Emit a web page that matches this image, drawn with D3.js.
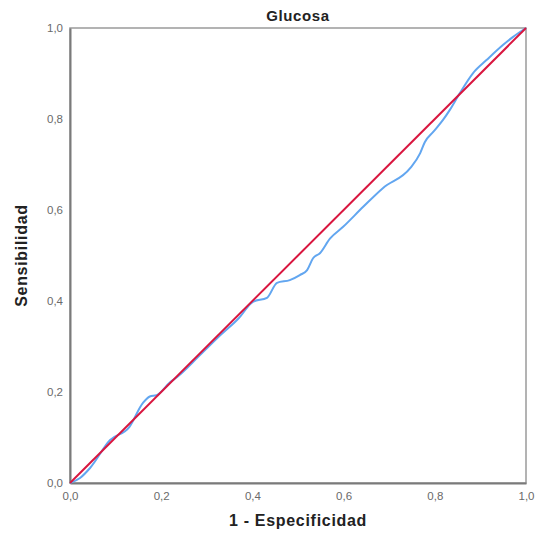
<!DOCTYPE html>
<html>
<head>
<meta charset="utf-8">
<script src="https://cdn.jsdelivr.net/npm/d3@7"></script>
<style>
  body { margin: 0; background: #fff; }
  text { font-family: "Liberation Sans", Arial, sans-serif; }
</style>
</head>
<body>
<div id="chart"></div>
<script>
// ROC curve values
var fpr = [0, 0.022, 0.044, 0.088, 0.13, 0.16, 0.175, 0.19, 0.22, 0.235, 0.285, 0.33, 0.37, 0.401, 0.432, 0.454, 0.482, 0.504, 0.52, 0.533, 0.548, 0.57, 0.599, 0.643, 0.686, 0.746, 0.768, 0.778, 0.796, 0.818, 0.833, 0.855, 0.884, 0.914, 0.95, 0.971, 1];
var tpr = [0, 0.011, 0.033, 0.0945, 0.123, 0.176, 0.19, 0.193, 0.222, 0.233, 0.281, 0.325, 0.362, 0.398, 0.407, 0.44, 0.446, 0.457, 0.468, 0.494, 0.505, 0.537, 0.563, 0.607, 0.648, 0.692, 0.725, 0.749, 0.771, 0.798, 0.82, 0.857, 0.901, 0.93, 0.963, 0.98, 1];
var refLine = [0, 1];
var tickValues = [0, 0.2, 0.4, 0.6, 0.8, 1.0];

var svgWidth = 538;
var svgHeight = 544;
var margin = { top: 28, right: 12, bottom: 61, left: 70 };
var width = svgWidth - margin.left - margin.right;
var height = svgHeight - margin.top - margin.bottom;

var svg = d3.select("#chart")
  .append("svg")
  .attr("width", svgWidth)
  .attr("height", svgHeight);

var chartGroup = svg.append("g")
  .attr("transform", `translate(${margin.left}, ${margin.top})`);

var xScale = d3.scaleLinear().domain([0, 1]).range([0, width]);
var yScale = d3.scaleLinear().domain([0, 1]).range([height, 0]);

var fmt = d => d3.format(".1f")(d).replace(".", ",");

// frame (top/right)
chartGroup.append("rect")
  .attr("x", 0).attr("y", 0)
  .attr("width", width).attr("height", height)
  .attr("fill", "none")
  .attr("stroke", "#9a9a9a")
  .attr("stroke-width", 1.5);

var bottomAxis = d3.axisBottom(xScale).tickValues(tickValues).tickFormat(fmt).tickSize(0).tickPadding(9);
var leftAxis = d3.axisLeft(yScale).tickValues(tickValues).tickFormat(fmt).tickSize(0).tickPadding(7);

var xg = chartGroup.append("g")
  .attr("transform", `translate(0, ${height})`)
  .call(bottomAxis);
var yg = chartGroup.append("g").call(leftAxis);

[xg, yg].forEach(function(g) {
  g.select(".domain").attr("stroke", "#7a7a7a").attr("stroke-width", 2);
  g.selectAll("text")
    .attr("fill", "#6a6a6a")
    .style("font-size", "11.5px");
});

// ROC curve
var curve = d3.line()
  .x((d, i) => xScale(fpr[i]))
  .y((d, i) => yScale(tpr[i]))
  .curve(d3.curveMonotoneX);

chartGroup.append("path")
  .datum(fpr)
  .attr("d", curve)
  .attr("fill", "none")
  .attr("stroke", "#62a6f0")
  .attr("stroke-width", 2);

// reference diagonal
chartGroup.append("line")
  .attr("x1", xScale(refLine[0])).attr("y1", yScale(refLine[0]))
  .attr("x2", xScale(refLine[1])).attr("y2", yScale(refLine[1]))
  .attr("stroke", "#d9163f")
  .attr("stroke-width", 2);

// titles
svg.append("text")
  .attr("x", margin.left + width / 2)
  .attr("y", 21)
  .attr("text-anchor", "middle")
  .style("font-size", "15px")
  .style("font-weight", "bold")
  .style("letter-spacing", "0.6px")
  .attr("fill", "#222")
  .text("Glucosa");

svg.append("text")
  .attr("x", margin.left + width / 2)
  .attr("y", 526)
  .attr("text-anchor", "middle")
  .style("font-size", "16px")
  .style("font-weight", "bold")
  .style("letter-spacing", "0.7px")
  .attr("fill", "#222")
  .text("1 - Especificidad");

svg.append("text")
  .attr("transform", `translate(27, ${margin.top + height / 2}) rotate(-90)`)
  .attr("text-anchor", "middle")
  .style("font-size", "16px")
  .style("font-weight", "bold")
  .style("letter-spacing", "0.7px")
  .attr("fill", "#222")
  .text("Sensibilidad");
</script>
</body>
</html>
